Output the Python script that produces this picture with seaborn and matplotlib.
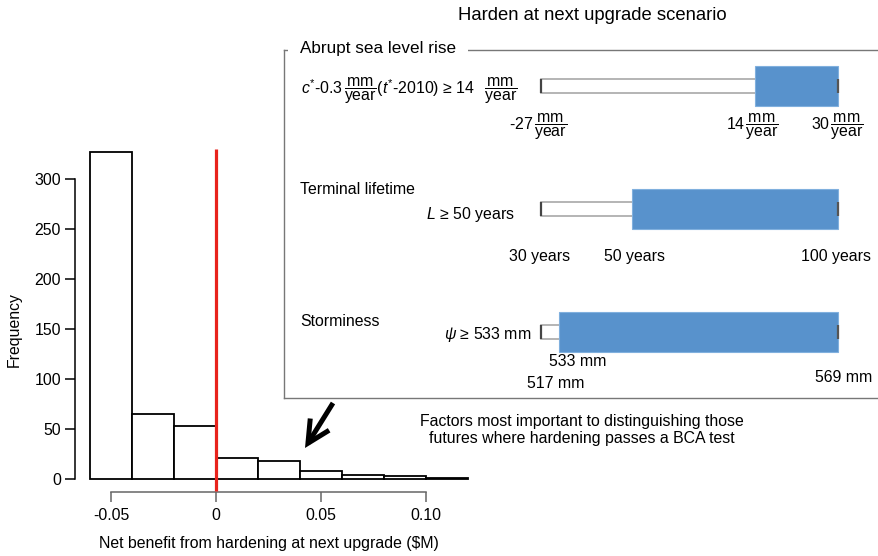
import numpy as np
import pandas as pd
import matplotlib
matplotlib.use("Agg")
import matplotlib.pyplot as plt
import seaborn as sns

# histogram: net benefit from hardening at next upgrade ($M)
bin_start = -0.06
bin_width = 0.02
counts = [327, 65, 53, 21, 18, 8, 4, 3, 1]
xticks = [-0.05, 0, 0.05, 0.10]
xtick_labels = ["-0.05", "0", "0.05", "0.10"]
yticks = [0, 50, 100, 150, 200, 250, 300]
break_even = 0

# scenario factors, threshold shown as fraction of the sampled range
factors = ["Abrupt sea level rise", "Terminal lifetime", "Storminess"]
thresh_frac = [0.72, 0.305, 0.06]
FR = r"$\,\dfrac{\mathrm{mm}}{\mathrm{year}}$"
rules = [
    r"$c^{*}$-0.3" + FR + r"($t^{*}$-2010) ≥ 14  " + FR,
    r"$L$ ≥ 50 years",
    r"$\psi$ ≥ 533 mm",
]
range_labels = [
    ["-27" + FR, "14" + FR, "30" + FR],
    ["30 years", "50 years", "100 years"],
    ["517 mm", "533 mm", "569 mm"],
]

sns.set_style("white")
plt.rcParams["font.family"] = ["Liberation Sans", "DejaVu Sans"]
plt.rcParams["mathtext.fontset"] = "custom"
plt.rcParams["mathtext.rm"] = "Liberation Sans"
plt.rcParams["mathtext.it"] = "Liberation Sans:italic"
plt.rcParams["text.color"] = "black"
plt.rcParams["axes.labelcolor"] = "black"
plt.rcParams["xtick.color"] = "black"
plt.rcParams["ytick.color"] = "black"
FS = 11.4
plt.rcParams["font.size"] = FS

W, H = 879, 556
fig = plt.figure(figsize=(W / 100, H / 100), dpi=100)


def fx(px):
    return px / W


def fy(py):
    return 1 - py / H


# ---- histogram
ax = fig.add_axes([fx(75), fy(492), fx(483) - fx(75), fy(139) - fy(492)])
n_bins = len(counts)
centers = bin_start + bin_width * (np.arange(n_bins) + 0.5)
hist_df = pd.DataFrame({"benefit": centers, "n": counts})
sns.histplot(data=hist_df, x="benefit", weights="n", binwidth=bin_width,
             binrange=(bin_start, bin_start + bin_width * n_bins), color="white",
             edgecolor="black", linewidth=1.3, alpha=1, ax=ax)
ax.vlines(break_even, -12, 330, color="#e8231c", lw=2.3, zorder=5)
ax.set_xlim(-0.0672, 0.1272)
ax.set_ylim(-13.08, 340.08)
ax.set_xticks(xticks, xtick_labels)
ax.set_yticks(yticks)
for s in ["top", "right"]:
    ax.spines[s].set_visible(False)
ax.spines["left"].set_bounds(0, 300)
ax.spines["bottom"].set_bounds(-0.05, 0.10)
ax.spines["left"].set_color("black")
ax.spines["bottom"].set_color("#666666")
ax.spines["left"].set_linewidth(1.1)
ax.spines["bottom"].set_linewidth(1.1)
ax.tick_params(axis="y", left=True, direction="out", length=7, width=1.1,
               color="black", pad=3, labelsize=FS)
ax.tick_params(axis="x", bottom=True, direction="out", length=7, width=1.1,
               color="#666666", pad=4.5, labelsize=FS)
ax.set_ylabel("Frequency", fontsize=FS)
ax.set_xlabel("Net benefit from hardening at next upgrade ($M)", fontsize=FS)
ax.yaxis.set_label_coords(-0.13, 0.459)
ax.xaxis.set_label_coords(0.4755, -0.125)

# ---- inset box with factor ranges
ins = fig.add_axes([fx(284), fy(398), fx(900) - fx(284), fy(50) - fy(398)])
ins.set_xlim((284 - 541) / 297, (900 - 541) / 297)
ins.set_ylim((398 - 86) / 123, (50 - 86) / 123)
ins.set_xticks([])
ins.set_yticks([])
ins.patch.set_alpha(0)
for s in ["left", "bottom", "top"]:
    ins.spines[s].set_color("#777777")
    ins.spines[s].set_linewidth(1.0)
ins.spines["right"].set_visible(False)

rows = np.arange(len(factors))
th = np.array(thresh_frac)
ins.barh(rows, 1, left=0, height=0.106, color="white", edgecolor="#a8a8a8", lw=1.2, zorder=2)
ins.barh(rows, 1 - th, left=th, height=0.325, color="#5892cc", edgecolor="#80b0de", lw=0.8, zorder=3)
ins.vlines(np.zeros(3), rows - 0.053, rows + 0.053, color="#444444", lw=1.6, zorder=4)
ins.vlines(np.ones(3), rows - 0.053, rows + 0.053, color="#555555", lw=1.6, zorder=4)

fig.text(fx(592), fy(15), "Harden at next upgrade scenario", ha="center", va="center", fontsize=13.3)

title_pos = [(300, 49), (300, 190), (300, 322)]
for (x, y), name in zip(title_pos, factors):
    if y < 60:
        fig.text(fx(x), fy(y), name, ha="left", va="center", fontsize=12.3,
                 bbox=dict(boxstyle="square,pad=0.7", fc="white", ec="none"))
    else:
        fig.text(fx(x), fy(y), name, ha="left", va="center", fontsize=FS)

rule_pos = [(517, 91), (515, 214), (531, 334)]
for (x, y), txt in zip(rule_pos, rules):
    fig.text(fx(x), fy(y), txt, ha="right", va="center", fontsize=FS)

label_pos = [
    [(538, 127), (752, 127), (837, 127)],
    [(540, 257), (635, 257), (836, 257)],
    [(556, 383), (578, 362), (844, 378)],
]
for pos_row, lab_row in zip(label_pos, range_labels):
    for (x, y), txt in zip(pos_row, lab_row):
        fig.text(fx(x), fy(y), txt, ha="center", va="center", fontsize=FS)

fig.text(fx(582), fy(430),
         "Factors most important to distinguishing those\nfutures where hardening passes a BCA test",
         ha="center", va="center", fontsize=FS, linespacing=1.2)

fig.add_artist(matplotlib.patches.FancyArrowPatch(
    (fx(333), fy(403)), (fx(305), fy(448)), transform=fig.transFigure,
    arrowstyle="->,head_length=1.0,head_width=0.5", mutation_scale=16,
    shrinkA=0, shrinkB=0, lw=3.6, color="black", capstyle="butt", joinstyle="miter"))

fig.savefig("out.png", dpi=100)
